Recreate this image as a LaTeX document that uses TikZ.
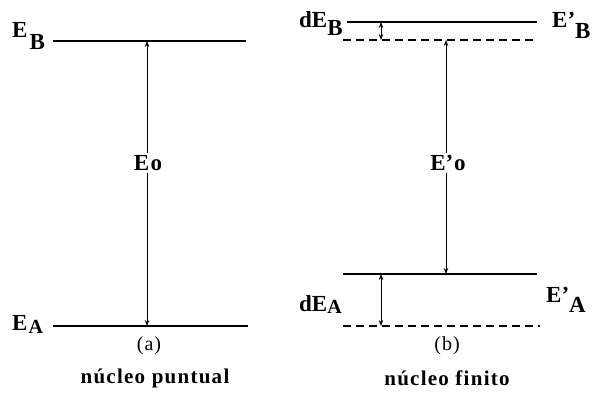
\documentclass[tikz,border=0pt]{standalone}
\usepackage{fontspec}
\setmainfont{Liberation Serif}
\usetikzlibrary{arrows.meta}
\begin{document}
\begin{tikzpicture}[x=1pt,y=-1pt,
  level/.style={line width=1.5pt},
  dlevel/.style={line width=1.5pt, dash pattern=on 8pt off 5pt},
  gap/.style={line width=0.8pt, {Stealth[length=6pt,width=4.5pt]}-{Stealth[length=6pt,width=4.5pt]}},
  lbl/.style={font=\bfseries\fontsize{23}{23}\selectfont, inner sep=0pt, anchor=base west},
  mid/.style={font=\bfseries\fontsize{23}{23}\selectfont, fill=white, inner sep=2pt},
  partlbl/.style={font=\fontsize{20}{20}\selectfont, inner sep=0pt},
  titlelbl/.style={font=\bfseries\fontsize{21}{21}\selectfont\addfontfeature{LetterSpace=6}, inner sep=0pt}]
\useasboundingbox (0,0) rectangle (598,395);
% ---------- left panel (a)
\coordinate (bL1) at (53,41);  \coordinate (bL2) at (246,41);
\coordinate (aL1) at (53,326); \coordinate (aL2) at (248,326);
\coordinate (tL1) at (147,41); \coordinate (tL2) at (147,326);
\draw[level] (bL1) -- (bL2);
\draw[level] (aL1) -- (aL2);
\draw[gap] (tL1) -- (tL2);
\node[mid] (eo) at (148,163) {E\kern1.5pt o};
\node[lbl] (EB) at (12,38) {E\kern2pt\raisebox{-12pt}{B}};
\node[lbl] (EA) at (12,331) {E\kern1pt\raisebox{-3pt}{\fontsize{20}{20}\selectfont A}};
\node[partlbl] (la) at (149,346) {(\kern1pt a\kern1pt)};
\node[titlelbl] (ta) at (155,378) {núcleo puntual};
% ---------- right panel (b)
\coordinate (bR1) at (347,22);  \coordinate (bR2) at (537,22);
\coordinate (bD1) at (343,40);  \coordinate (bD2) at (535,40);
\coordinate (aR1) at (343,274); \coordinate (aR2) at (537,274);
\coordinate (aD1) at (343,326); \coordinate (aD2) at (540,326);
\draw[level] (bR1) -- (bR2);
\draw[dlevel] (bD1) -- (bD2);
\draw[level] (aR1) -- (aR2);
\draw[dlevel] (aD1) -- (aD2);
\coordinate (sB1) at (381,22);  \coordinate (sB2) at (381,40);
\coordinate (sA1) at (381,274); \coordinate (sA2) at (381,326);
\coordinate (tR1) at (446,40);  \coordinate (tR2) at (446,274);
\draw[gap] (sB1) -- (sB2);
\draw[gap] (sA1) -- (sA2);
\draw[gap] (tR1) -- (tR2);
\node[mid] (eop) at (448,163) {E’\kern1pt o};
\node[lbl] (dEB) at (299,28) {dE\raisebox{-8pt}{B}};
\node[lbl] (EpB) at (552,28) {E’\raisebox{-11pt}{B}};
\node[lbl] (dEA) at (299,312) {dE\raisebox{-2pt}{\fontsize{20}{20}\selectfont A}};
\node[lbl] (EpA) at (546,303) {E’\raisebox{-10pt}{A}};
\node[partlbl] (lb) at (447,346) {(\kern1pt b\kern1pt)};
\node[titlelbl] (tb) at (447,378) {núcleo finito};
\end{tikzpicture}
\end{document}
